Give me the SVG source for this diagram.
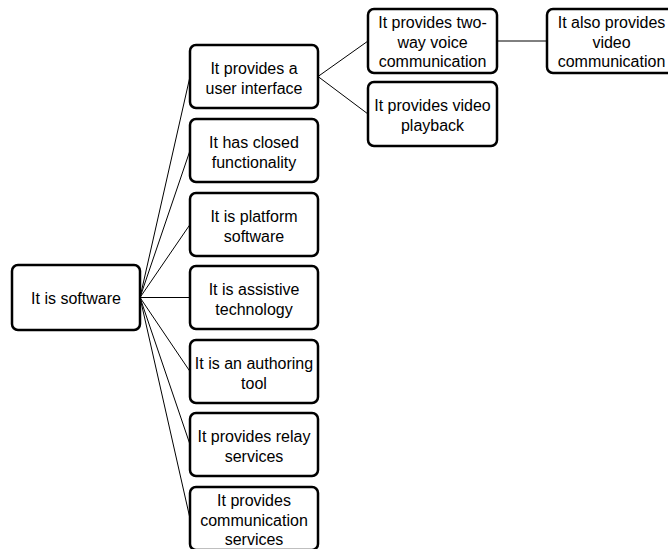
<svg xmlns="http://www.w3.org/2000/svg" width="668" height="549" viewBox="0 0 668 549">
<style>
.box{fill:#fff;stroke:#000;stroke-width:2.5}
.t{font-family:"Liberation Sans",Arial,sans-serif;font-size:16px;text-anchor:middle;fill:#000}
.c{stroke:#000;stroke-width:1;fill:none}
</style>
<rect width="668" height="549" fill="#fff"/>
<g id="connectors">
<line class="c" x1="140" y1="297.5" x2="190" y2="76.5"/>
<line class="c" x1="140" y1="297.5" x2="190" y2="150.5"/>
<line class="c" x1="140" y1="297.5" x2="190" y2="224.5"/>
<line class="c" x1="140" y1="297.5" x2="190" y2="297.5"/>
<line class="c" x1="140" y1="297.5" x2="190" y2="371.5"/>
<line class="c" x1="140" y1="297.5" x2="190" y2="444.5"/>
<line class="c" x1="140" y1="297.5" x2="190" y2="518.5"/>
<line class="c" x1="318" y1="76.5" x2="368" y2="41"/>
<line class="c" x1="318" y1="76.5" x2="368" y2="114"/>
<line class="c" x1="497" y1="41" x2="547" y2="41"/>
</g>
<g id="root">
<rect class="box" x="12" y="265" width="128" height="65" rx="6"/>
<text class="t" x="76" y="304">It is software</text>
</g>
<g id="n1">
<rect class="box" x="190" y="45" width="128" height="63" rx="6"/>
<text class="t" x="254" y="74">It provides a</text>
<text class="t" x="254" y="93.5">user interface</text>
</g>
<g id="n2">
<rect class="box" x="190" y="119" width="128" height="63" rx="6"/>
<text class="t" x="254" y="148">It has closed</text>
<text class="t" x="254" y="167.5">functionality</text>
</g>
<g id="n3">
<rect class="box" x="190" y="193" width="128" height="63" rx="6"/>
<text class="t" x="254" y="222">It is platform</text>
<text class="t" x="254" y="241.5">software</text>
</g>
<g id="n4">
<rect class="box" x="190" y="266" width="128" height="63" rx="6"/>
<text class="t" x="254" y="295">It is assistive</text>
<text class="t" x="254" y="314.5">technology</text>
</g>
<g id="n5">
<rect class="box" x="190" y="340" width="128" height="63" rx="6"/>
<text class="t" x="254" y="369">It is an authoring</text>
<text class="t" x="254" y="388.5">tool</text>
</g>
<g id="n6">
<rect class="box" x="190" y="413" width="128" height="63" rx="6"/>
<text class="t" x="254" y="442">It provides relay</text>
<text class="t" x="254" y="461.5">services</text>
</g>
<g id="n7">
<rect class="box" x="190" y="487" width="128" height="63" rx="6"/>
<text class="t" x="254" y="506">It provides</text>
<text class="t" x="254" y="525.5">communication</text>
<text class="t" x="254" y="545">services</text>
</g>
<g id="n8">
<rect class="box" x="368" y="9" width="129" height="64" rx="6"/>
<text class="t" x="432.5" y="28">It provides two-</text>
<text class="t" x="432.5" y="47.5">way voice</text>
<text class="t" x="432.5" y="67">communication</text>
</g>
<g id="n9">
<rect class="box" x="368" y="82" width="129" height="64" rx="6"/>
<text class="t" x="432.5" y="111">It provides video</text>
<text class="t" x="432.5" y="130.5">playback</text>
</g>
<g id="n10">
<rect class="box" x="547" y="9" width="129" height="64" rx="6"/>
<text class="t" x="611.5" y="28">It also provides</text>
<text class="t" x="611.5" y="47.5">video</text>
<text class="t" x="611.5" y="67">communication</text>
</g>
</svg>
